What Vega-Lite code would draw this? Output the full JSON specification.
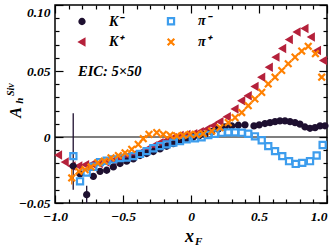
{
  "$schema": "https://vega.github.io/schema/vega-lite/v6.json",
  "width": 272,
  "height": 198,
  "autosize": {"type": "none"},
  "padding": {"left": 55, "top": 5, "right": 3, "bottom": 44},
  "config": {
    "view": {"stroke": "black", "strokeWidth": 1.5},
    "font": "Liberation Serif",
    "axis": {"grid": false, "domain": false, "tickColor": "black", "tickWidth": 1.2, "labelColor": "black", "titleColor": "black"}
  },
  "datasets": {
    "pts": [
      {"s": "K⁺", "x": -0.974, "y": -0.0137}, {"s": "K⁺", "x": -0.925, "y": -0.019}, {"s": "K⁺", "x": -0.875, "y": -0.022}, {"s": "K⁺", "x": -0.825, "y": -0.022}, {"s": "K⁺", "x": -0.775, "y": -0.021}, {"s": "K⁺", "x": -0.725, "y": -0.0205}, {"s": "K⁺", "x": -0.675, "y": -0.02}, {"s": "K⁺", "x": -0.625, "y": -0.019}, {"s": "K⁺", "x": -0.575, "y": -0.018}, {"s": "K⁺", "x": -0.525, "y": -0.0165}, {"s": "K⁺", "x": -0.475, "y": -0.015}, {"s": "K⁺", "x": -0.425, "y": -0.0135}, {"s": "K⁺", "x": -0.375, "y": -0.012}, {"s": "K⁺", "x": -0.326, "y": -0.0094}, {"s": "K⁺", "x": -0.277, "y": -0.0069}, {"s": "K⁺", "x": -0.228, "y": -0.0044}, {"s": "K⁺", "x": -0.179, "y": -0.0025}, {"s": "K⁺", "x": -0.13, "y": -0.0005}, {"s": "K⁺", "x": -0.08, "y": 0.0012}, {"s": "K⁺", "x": -0.03, "y": 0.002}, {"s": "K⁺", "x": 0.02, "y": 0.0025}, {"s": "K⁺", "x": 0.068, "y": 0.004}, {"s": "K⁺", "x": 0.117, "y": 0.006}, {"s": "K⁺", "x": 0.165, "y": 0.0085}, {"s": "K⁺", "x": 0.213, "y": 0.0115}, {"s": "K⁺", "x": 0.267, "y": 0.0153}, {"s": "K⁺", "x": 0.324, "y": 0.0212}, {"s": "K⁺", "x": 0.373, "y": 0.0275}, {"s": "K⁺", "x": 0.421, "y": 0.0313}, {"s": "K⁺", "x": 0.471, "y": 0.0382}, {"s": "K⁺", "x": 0.52, "y": 0.0453}, {"s": "K⁺", "x": 0.576, "y": 0.0529}, {"s": "K⁺", "x": 0.625, "y": 0.0605}, {"s": "K⁺", "x": 0.674, "y": 0.067}, {"s": "K⁺", "x": 0.723, "y": 0.0738}, {"s": "K⁺", "x": 0.78, "y": 0.0796}, {"s": "K⁺", "x": 0.838, "y": 0.0822}, {"s": "K⁺", "x": 0.885, "y": 0.0758}, {"s": "K⁺", "x": 0.93, "y": 0.0656}, {"s": "K⁺", "x": 0.975, "y": 0.058},
      {"s": "K⁻", "x": -0.866, "y": -0.022}, {"s": "K⁻", "x": -0.816, "y": -0.028}, {"s": "K⁻", "x": -0.767, "y": -0.0437}, {"s": "K⁻", "x": -0.718, "y": -0.0298}, {"s": "K⁻", "x": -0.669, "y": -0.026}, {"s": "K⁻", "x": -0.62, "y": -0.0252}, {"s": "K⁻", "x": -0.571, "y": -0.0227}, {"s": "K⁻", "x": -0.522, "y": -0.0201}, {"s": "K⁻", "x": -0.473, "y": -0.0183}, {"s": "K⁻", "x": -0.424, "y": -0.0166}, {"s": "K⁻", "x": -0.375, "y": -0.014}, {"s": "K⁻", "x": -0.326, "y": -0.0125}, {"s": "K⁻", "x": -0.277, "y": -0.011}, {"s": "K⁻", "x": -0.228, "y": -0.009}, {"s": "K⁻", "x": -0.179, "y": -0.007}, {"s": "K⁻", "x": -0.13, "y": -0.005}, {"s": "K⁻", "x": -0.081, "y": -0.003}, {"s": "K⁻", "x": -0.032, "y": -0.0012}, {"s": "K⁻", "x": 0.017, "y": 0.0}, {"s": "K⁻", "x": 0.06, "y": 0.001}, {"s": "K⁻", "x": 0.103, "y": 0.002}, {"s": "K⁻", "x": 0.152, "y": 0.004}, {"s": "K⁻", "x": 0.2, "y": 0.0059}, {"s": "K⁻", "x": 0.25, "y": 0.0076}, {"s": "K⁻", "x": 0.299, "y": 0.0084}, {"s": "K⁻", "x": 0.348, "y": 0.0089}, {"s": "K⁻", "x": 0.397, "y": 0.0092}, {"s": "K⁻", "x": 0.463, "y": 0.0084}, {"s": "K⁻", "x": 0.502, "y": 0.0092}, {"s": "K⁻", "x": 0.544, "y": 0.0102}, {"s": "K⁻", "x": 0.581, "y": 0.0109}, {"s": "K⁻", "x": 0.618, "y": 0.0117}, {"s": "K⁻", "x": 0.654, "y": 0.0122}, {"s": "K⁻", "x": 0.691, "y": 0.0122}, {"s": "K⁻", "x": 0.728, "y": 0.0117}, {"s": "K⁻", "x": 0.765, "y": 0.0109}, {"s": "K⁻", "x": 0.801, "y": 0.0097}, {"s": "K⁻", "x": 0.838, "y": 0.0076}, {"s": "K⁻", "x": 0.875, "y": 0.0066}, {"s": "K⁻", "x": 0.912, "y": 0.0071}, {"s": "K⁻", "x": 0.949, "y": 0.0084}, {"s": "K⁻", "x": 0.985, "y": 0.0085},
      {"s": "π⁻", "x": -0.865, "y": -0.0145}, {"s": "π⁻", "x": -0.816, "y": -0.0336}, {"s": "π⁻", "x": -0.767, "y": -0.027}, {"s": "π⁻", "x": -0.718, "y": -0.0225}, {"s": "π⁻", "x": -0.669, "y": -0.019}, {"s": "π⁻", "x": -0.62, "y": -0.018}, {"s": "π⁻", "x": -0.571, "y": -0.017}, {"s": "π⁻", "x": -0.522, "y": -0.016}, {"s": "π⁻", "x": -0.473, "y": -0.0155}, {"s": "π⁻", "x": -0.424, "y": -0.0145}, {"s": "π⁻", "x": -0.375, "y": -0.0128}, {"s": "π⁻", "x": -0.326, "y": -0.0107}, {"s": "π⁻", "x": -0.277, "y": -0.0085}, {"s": "π⁻", "x": -0.228, "y": -0.0069}, {"s": "π⁻", "x": -0.179, "y": -0.0056}, {"s": "π⁻", "x": -0.13, "y": -0.0043}, {"s": "π⁻", "x": -0.081, "y": -0.003}, {"s": "π⁻", "x": -0.032, "y": -0.0018}, {"s": "π⁻", "x": 0.029, "y": -0.001}, {"s": "π⁻", "x": 0.078, "y": -0.0002}, {"s": "π⁻", "x": 0.127, "y": 0.0015}, {"s": "π⁻", "x": 0.176, "y": 0.0025}, {"s": "π⁻", "x": 0.225, "y": 0.0033}, {"s": "π⁻", "x": 0.274, "y": 0.0035}, {"s": "π⁻", "x": 0.324, "y": 0.0035}, {"s": "π⁻", "x": 0.373, "y": 0.0033}, {"s": "π⁻", "x": 0.421, "y": 0.0025}, {"s": "π⁻", "x": 0.47, "y": 0.0005}, {"s": "π⁻", "x": 0.52, "y": -0.0025}, {"s": "π⁻", "x": 0.568, "y": -0.0069}, {"s": "π⁻", "x": 0.618, "y": -0.0107}, {"s": "π⁻", "x": 0.671, "y": -0.0145}, {"s": "π⁻", "x": 0.721, "y": -0.0183}, {"s": "π⁻", "x": 0.77, "y": -0.0204}, {"s": "π⁻", "x": 0.818, "y": -0.0196}, {"s": "π⁻", "x": 0.875, "y": -0.0183}, {"s": "π⁻", "x": 0.924, "y": -0.014}, {"s": "π⁻", "x": 0.968, "y": -0.0061},
      {"s": "π⁺", "x": -0.877, "y": -0.031}, {"s": "π⁺", "x": -0.824, "y": -0.026}, {"s": "π⁺", "x": -0.779, "y": -0.0247}, {"s": "π⁺", "x": -0.735, "y": -0.0227}, {"s": "π⁺", "x": -0.686, "y": -0.0196}, {"s": "π⁺", "x": -0.637, "y": -0.0183}, {"s": "π⁺", "x": -0.588, "y": -0.0158}, {"s": "π⁺", "x": -0.534, "y": -0.014}, {"s": "π⁺", "x": -0.485, "y": -0.012}, {"s": "π⁺", "x": -0.436, "y": -0.0094}, {"s": "π⁺", "x": -0.388, "y": -0.0056}, {"s": "π⁺", "x": -0.351, "y": -0.0013}, {"s": "π⁺", "x": -0.309, "y": 0.002}, {"s": "π⁺", "x": -0.252, "y": 0.0033}, {"s": "π⁺", "x": -0.204, "y": 0.002}, {"s": "π⁺", "x": -0.154, "y": 0.0013}, {"s": "π⁺", "x": -0.105, "y": 0.0008}, {"s": "π⁺", "x": -0.057, "y": 0.0013}, {"s": "π⁺", "x": -0.007, "y": 0.002}, {"s": "π⁺", "x": 0.04, "y": 0.0018}, {"s": "π⁺", "x": 0.09, "y": 0.0025}, {"s": "π⁺", "x": 0.152, "y": 0.0045}, {"s": "π⁺", "x": 0.213, "y": 0.0071}, {"s": "π⁺", "x": 0.274, "y": 0.0109}, {"s": "π⁺", "x": 0.324, "y": 0.0147}, {"s": "π⁺", "x": 0.373, "y": 0.0185}, {"s": "π⁺", "x": 0.421, "y": 0.0237}, {"s": "π⁺", "x": 0.47, "y": 0.0288}, {"s": "π⁺", "x": 0.52, "y": 0.0338}, {"s": "π⁺", "x": 0.568, "y": 0.0402}, {"s": "π⁺", "x": 0.618, "y": 0.0453}, {"s": "π⁺", "x": 0.667, "y": 0.0504}, {"s": "π⁺", "x": 0.715, "y": 0.0555}, {"s": "π⁺", "x": 0.765, "y": 0.0605}, {"s": "π⁺", "x": 0.814, "y": 0.0651}, {"s": "π⁺", "x": 0.862, "y": 0.0687}, {"s": "π⁺", "x": 0.915, "y": 0.0631}, {"s": "π⁺", "x": 0.961, "y": 0.0453}
    ],
    "err": [
      {"s": "K⁻", "x": -0.866, "lo": -0.04, "hi": 0.018},
      {"s": "K⁻", "x": -0.767, "lo": -0.05, "hi": -0.037},
      {"s": "π⁺", "x": -0.877, "lo": -0.036, "hi": -0.021}
    ],
    "one": [{"t": "EIC: 5×50", "f": "F", "h": "h", "sup": "Siv"}]
  },
  "layer": [
    {
      "data": {"name": "one"},
      "mark": {"type": "rule", "color": "black", "strokeWidth": 1.2},
      "encoding": {
        "x": {"datum": -1, "type": "quantitative", "scale": {"domain": [-1, 1], "nice": false},
          "axis": {"orient": "top", "values": [-1, -0.5, 0, 0.5, 1], "labels": false, "tickSize": -8, "title": null}},
        "x2": {"datum": 1},
        "y": {"datum": 0, "type": "quantitative", "scale": {"domain": [-0.05, 0.1], "nice": false},
          "axis": {"orient": "right", "values": [-0.05, 0, 0.05, 0.1], "labels": false, "tickSize": -8, "title": null}}
      }
    },
    {
      "data": {"name": "err"},
      "transform": [{"filter": "datum.s == 'K⁻'"}],
      "mark": {"type": "rule", "color": "#1e1030", "strokeWidth": 1.3},
      "encoding": {
        "x": {"field": "x", "type": "quantitative", "scale": {"domain": [-1, 1], "nice": false},
          "axis": {"orient": "bottom", "values": [-1, -0.5, 0, 0.5, 1], "labels": false, "tickSize": -8, "title": null}},
        "y": {"field": "lo", "type": "quantitative", "scale": {"domain": [-0.05, 0.1], "nice": false},
          "axis": {"orient": "left", "values": [-0.05, 0, 0.05, 0.1], "labels": false, "tickSize": -8, "title": null}},
        "y2": {"field": "hi"}
      }
    },
    {
      "data": {"name": "err"},
      "transform": [{"filter": "datum.s == 'π⁺'"}],
      "mark": {"type": "rule", "color": "#ff8000", "strokeWidth": 1.3},
      "encoding": {
        "x": {"field": "x", "type": "quantitative", "scale": {"domain": [-1, 1], "nice": false},
          "axis": {"orient": "bottom", "values": [-0.9, -0.8, -0.7, -0.6, -0.4, -0.3, -0.2, -0.1, 0.1, 0.2, 0.3, 0.4, 0.6, 0.7, 0.8, 0.9], "labels": false, "tickSize": -4, "title": null}},
        "y": {"field": "lo", "type": "quantitative", "scale": {"domain": [-0.05, 0.1], "nice": false},
          "axis": {"orient": "left", "values": [-0.04, -0.03, -0.02, -0.01, 0.01, 0.02, 0.03, 0.04, 0.06, 0.07, 0.08, 0.09], "labels": false, "tickSize": -4, "title": null}},
        "y2": {"field": "hi"}
      }
    },
    {
      "data": {"name": "pts"},
      "mark": {"type": "point", "opacity": 1, "strokeWidth": 2.2},
      "encoding": {
        "x": {"field": "x", "type": "quantitative", "scale": {"domain": [-1, 1], "nice": false},
          "axis": {"orient": "bottom", "values": [-1, -0.5, 0, 0.5, 1], "ticks": false, "labelExpr": "datum.value == 0 ? '0' : format(datum.value, '.1f')", "labelFont": "Liberation Serif", "labelFontStyle": "italic", "labelFontWeight": "bold", "labelFontSize": 13.5, "labelPadding": 6, "labelFlush": false,
            "labelAlign": {"condition": {"test": "datum.value == 1", "value": "right"}, "value": "center"},
            "title": "x", "titleFont": "Liberation Serif", "titleFontStyle": "italic", "titleFontWeight": "bold", "titleFontSize": 18, "titleBaseline": "alphabetic", "titleX": 134, "titleY": 38}},
        "y": {"field": "y", "type": "quantitative", "scale": {"domain": [-0.05, 0.1], "nice": false},
          "axis": {"orient": "left", "values": [-0.05, 0, 0.05, 0.1], "ticks": false, "labelExpr": "datum.value == 0 ? '0' : format(datum.value, '.2f')", "labelFont": "Liberation Serif", "labelFontStyle": "italic", "labelFontWeight": "bold", "labelFontSize": 13.5, "labelPadding": 5, "labelFlush": false,
            "labelBaseline": {"condition": {"test": "datum.value == 0.1", "value": "top"}, "value": "middle"},
            "title": "A", "titleFont": "Liberation Serif", "titleFontStyle": "italic", "titleFontWeight": "bold", "titleFontSize": 16, "titleAngle": 270, "titleAlign": "center", "titleBaseline": "alphabetic", "titleX": -35, "titleY": 107}},
        "shape": {"field": "s", "type": "nominal",
          "scale": {"domain": ["K⁻", "K⁺", "π⁻", "π⁺"], "range": ["circle", "triangle-left", "square", "M-1,-1L1,1M-1,1L1,-1"]},
          "legend": {"orient": "none", "legendX": 20, "legendY": 9, "columns": 2, "title": null, "labelFont": "Liberation Serif", "labelFontStyle": "italic", "labelFontWeight": "bold", "labelFontSize": 14, "labelColor": "black", "labelOffset": 20, "columnPadding": 39, "rowPadding": 5, "symbolStrokeWidth": 2.2}},
        "fill": {"field": "s", "type": "nominal", "scale": {"domain": ["K⁻", "K⁺", "π⁻", "π⁺"], "range": ["#1e1030", "#b5213b", "transparent", "transparent"]}},
        "stroke": {"field": "s", "type": "nominal", "scale": {"domain": ["K⁻", "K⁺", "π⁻", "π⁺"], "range": ["#1e1030", "#b5213b", "#3d9ded", "#ff8000"]}},
        "size": {"field": "s", "type": "nominal", "scale": {"domain": ["K⁻", "K⁺", "π⁻", "π⁺"], "range": [26, 44, 48, 92]}}
      }
    },
    {
      "data": {"name": "one"},
      "mark": {"type": "text", "align": "left", "baseline": "middle", "font": "Liberation Serif", "fontStyle": "italic", "fontWeight": "bold", "fontSize": 14.5, "color": "black"},
      "encoding": {
        "text": {"field": "t"},
        "x": {"datum": -0.831, "type": "quantitative", "scale": {"domain": [-1, 1], "nice": false},
          "axis": {"orient": "top", "values": [-0.9, -0.8, -0.7, -0.6, -0.4, -0.3, -0.2, -0.1, 0.1, 0.2, 0.3, 0.4, 0.6, 0.7, 0.8, 0.9], "labels": false, "tickSize": -4, "title": null}},
        "y": {"datum": 0.0496, "type": "quantitative", "scale": {"domain": [-0.05, 0.1], "nice": false},
          "axis": {"orient": "right", "values": [-0.04, -0.03, -0.02, -0.01, 0.01, 0.02, 0.03, 0.04, 0.06, 0.07, 0.08, 0.09], "labels": false, "tickSize": -4, "title": null}}
      }
    },
    {
      "data": {"name": "one"},
      "mark": {"type": "text", "align": "left", "baseline": "alphabetic", "font": "Liberation Serif", "fontStyle": "italic", "fontWeight": "bold", "fontSize": 11, "color": "black"},
      "encoding": {
        "text": {"field": "f"},
        "x": {"datum": 0.03, "type": "quantitative", "scale": {"domain": [-1, 1], "nice": false}, "axis": null},
        "y": {"datum": -0.082, "type": "quantitative", "scale": {"domain": [-0.05, 0.1], "nice": false}, "axis": null}
      }
    },
    {
      "data": {"name": "one"},
      "mark": {"type": "text", "align": "center", "baseline": "alphabetic", "angle": 270, "font": "Liberation Serif", "fontStyle": "italic", "fontWeight": "bold", "fontSize": 11, "color": "black"},
      "encoding": {
        "text": {"field": "h"},
        "x": {"datum": -1.235, "type": "quantitative", "scale": {"domain": [-1, 1], "nice": false}, "axis": null},
        "y": {"datum": 0.0275, "type": "quantitative", "scale": {"domain": [-0.05, 0.1], "nice": false}, "axis": null}
      }
    },
    {
      "data": {"name": "one"},
      "mark": {"type": "text", "align": "center", "baseline": "alphabetic", "angle": 270, "font": "Liberation Serif", "fontStyle": "italic", "fontWeight": "bold", "fontSize": 10, "color": "black"},
      "encoding": {
        "text": {"field": "sup"},
        "x": {"datum": -1.301, "type": "quantitative", "scale": {"domain": [-1, 1], "nice": false}, "axis": null},
        "y": {"datum": 0.0359, "type": "quantitative", "scale": {"domain": [-0.05, 0.1], "nice": false}, "axis": null}
      }
    }
  ],
  "resolve": {"axis": {"x": "independent", "y": "independent"}}
}
